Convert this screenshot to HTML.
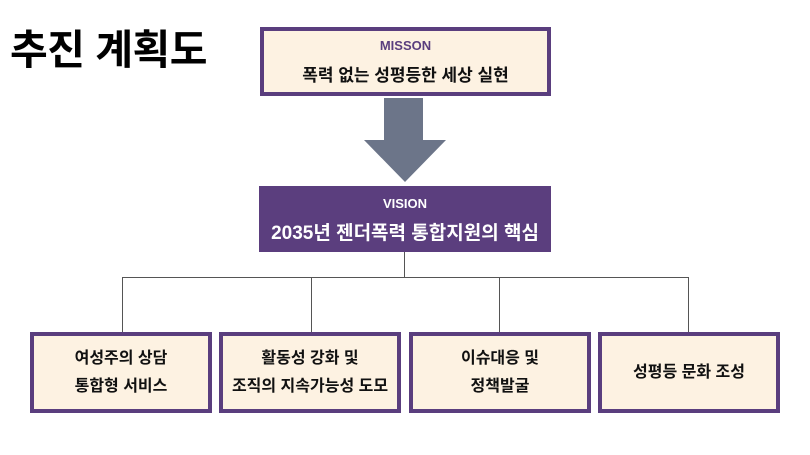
<!DOCTYPE html>
<html><head><meta charset="utf-8"><style>
body{margin:0;width:810px;height:455px;background:#fff;position:relative;overflow:hidden;font-family:"Liberation Sans","Noto Sans CJK KR",sans-serif;}
.a{position:absolute;box-sizing:border-box;}
.box{border:4px solid #5a3e7e;background:#fdf2e2;display:flex;align-items:center;justify-content:center;text-align:center;font-weight:bold;font-size:16px;line-height:28px;color:#111;}
.l{position:absolute;background:#555;}
</style></head><body>
<div class="a" style="left:10px;top:16px;font-size:41px;font-weight:bold;color:#000;letter-spacing:-0.5px">추진 계획도</div>
<div class="a box" style="left:260px;top:27px;width:291px;height:69px;flex-direction:column;line-height:normal;">
<div style="color:#5a3e7e;font-size:13px;margin-bottom:8px">MISSON</div>
<div style="font-size:17px">폭력 없는 성평등한 세상 실현</div></div>
<svg class="a" style="left:0;top:0" width="810" height="455">
<polygon points="384,98 423,98 423,140 446,140 405,182 364,140 384,140" fill="#6c7589"/>
</svg>
<div class="a" style="left:259px;top:186px;width:292px;height:66px;background:#5b3e7e;color:#fff;text-align:center;font-weight:bold;">
<div style="font-size:13px;margin-top:10px">VISION</div>
<div style="font-size:19px;margin-top:7px">2035년 젠더폭력 통합지원의 핵심</div></div>
<div class="l" style="left:404px;top:252px;width:1px;height:25px"></div>
<div class="l" style="left:122px;top:277px;width:567px;height:1px"></div>
<div class="l" style="left:122px;top:277px;width:1px;height:55px"></div>
<div class="l" style="left:311px;top:277px;width:1px;height:55px"></div>
<div class="l" style="left:499px;top:277px;width:1px;height:55px"></div>
<div class="l" style="left:688px;top:277px;width:1px;height:55px"></div>
<div class="a box" style="left:30px;top:332px;width:182px;height:81px">여성주의 상담<br>통합형 서비스</div>
<div class="a box" style="left:219px;top:332px;width:182px;height:81px">활동성 강화 및<br>조직의 지속가능성 도모</div>
<div class="a box" style="left:409px;top:332px;width:182px;height:81px">이슈대응 및<br>정책발굴</div>
<div class="a box" style="left:598px;top:332px;width:182px;height:81px">성평등 문화 조성</div>
</body></html>
